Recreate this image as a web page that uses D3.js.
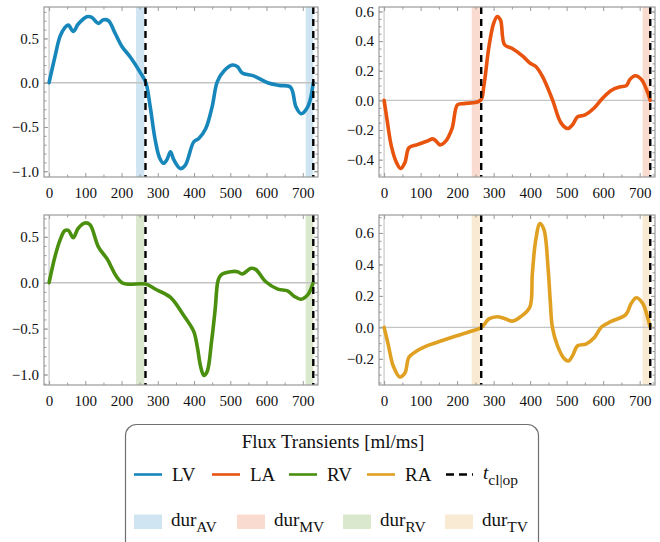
<!DOCTYPE html>
<html>
<head>
<meta charset="utf-8">
<script src="https://cdn.jsdelivr.net/npm/d3@7"></script>
<style>
  body { margin: 0; background: #fff; }
  svg { display: block; }
</style>
</head>
<body>
<div id="box"></div>
<script>
// canvas
const width = 660
const height = 542
const serifFont = '"Liberation Serif"'

// time axis (ms)
const xDomain = [-14, 742]
const xTicks = [0, 100, 200, 300, 400, 500, 600, 700]
const xMinor = [50, 150, 250, 350, 450, 550, 650]

// valve closing / opening times and valve durations
const tClOp = [266, 729]
const durBands = [[240, 263], [708, 729]]

// flux transients [ml/ms]
const timeLV = [0,16,30,43,53,67,80,104,117,136,150,164,182,201,224,251,267,279,293,305,316,325,335,344,362,376,399,413,432,450,464,483,506,520,533,566,603,635,666,681,695,714,729]
const fluxLV = [0,0.29,0.52,0.62,0.65,0.58,0.66,0.745,0.74,0.67,0.71,0.70,0.56,0.41,0.29,0.12,0.0,-0.27,-0.65,-0.85,-0.91,-0.87,-0.78,-0.87,-0.97,-0.93,-0.67,-0.63,-0.52,-0.27,0.01,0.135,0.2,0.18,0.11,0.075,0.0,-0.03,-0.05,-0.27,-0.35,-0.27,0.0]

const timeLA = [0,8,20,34,45,57,68,89,117,135,153,167,186,201,218,264,273,287,300,310,319,330,351,379,400,415,434,461,484,503,516,530,549,576,599,622,645,664,673,688,705,719,729]
const fluxLA = [0,-0.13,-0.31,-0.42,-0.46,-0.42,-0.32,-0.30,-0.276,-0.26,-0.30,-0.28,-0.19,-0.03,-0.022,0,0.094,0.36,0.52,0.566,0.54,0.375,0.35,0.30,0.25,0.23,0.16,0.005,-0.15,-0.19,-0.165,-0.11,-0.10,-0.05,0.016,0.067,0.09,0.1,0.14,0.166,0.14,0.072,0]

const timeRV = [0,16,30,43,53,67,80,99,113,136,159,201,266,298,335,372,399,409,418,427,436,448,458,465,470,478,501,520,533,557,570,598,631,658,677,695,714,729]
const fluxRV = [0,0.28,0.46,0.565,0.57,0.49,0.59,0.65,0.63,0.39,0.265,0.0,-0.015,-0.08,-0.16,-0.36,-0.53,-0.70,-0.91,-1.01,-0.97,-0.65,-0.3,0.0,0.06,0.095,0.12,0.12,0.095,0.157,0.145,0.01,-0.07,-0.09,-0.15,-0.18,-0.13,0]

const timeRA = [0,11,25,43,57,68,89,117,144,199,236,267,287,310,328,351,374,399,406,415,427,438,449,455,461,475,494,505,516,530,553,576,596,622,662,677,691,709,719,729]
const fluxRA = [0,-0.106,-0.245,-0.315,-0.29,-0.19,-0.15,-0.117,-0.096,-0.053,-0.026,0,0.054,0.068,0.058,0.04,0.068,0.128,0.34,0.55,0.66,0.62,0.38,0.17,0,-0.117,-0.20,-0.213,-0.18,-0.117,-0.106,-0.064,0.004,0.038,0.081,0.153,0.188,0.15,0.086,0]

// colours
const lineColors = ['#1787bb', '#e8530e', '#4b8f0e', '#e0a022']
const bandColors = ['#cfe5f1', '#f9dccf', '#dae8cd', '#f8ead3']
const seriesNames = ['LV', 'LA', 'RV', 'RA']
const valveNames = ['AV', 'MV', 'RV', 'TV']

// panels: frame box + y range
const panels = [
  {time: timeLV, flux: fluxLV, x0: 44, x1: 318, y0: 7, y1: 177, yDom: [-1.065, 0.855],
   yTicks: [-1, -0.5, 0, 0.5], yMinor: d3.range(-1.0, 0.85, 0.1)},
  {time: timeLA, flux: fluxLA, x0: 379, x1: 655, y0: 7, y1: 177, yDom: [-0.517, 0.63],
   yTicks: [-0.4, -0.2, 0, 0.2, 0.4, 0.6], yMinor: d3.range(-0.5, 0.63, 0.05)},
  {time: timeRV, flux: fluxRV, x0: 44, x1: 318, y0: 215, y1: 385, yDom: [-1.114, 0.737],
   yTicks: [-1, -0.5, 0, 0.5], yMinor: d3.range(-1.1, 0.73, 0.1)},
  {time: timeRA, flux: fluxRA, x0: 379, x1: 655, y0: 215, y1: 385, yDom: [-0.366, 0.714],
   yTicks: [-0.2, 0, 0.2, 0.4, 0.6], yMinor: d3.range(-0.35, 0.71, 0.05)}
]

const svg = d3.select('#box').append('svg')
  .attr('width', width)
  .attr('height', height)

const frameGray = '#9a9a9a'

// every text gets the serif family on the element itself
function serifText(sel, size) {
  return sel.attr('font-family', serifFont).attr('font-size', size).attr('fill', '#111')
}

panels.forEach((p, i) => {
  const x = d3.scaleLinear().domain(xDomain).range([p.x0, p.x1])
  const y = d3.scaleLinear().domain(p.yDom).range([p.y1, p.y0])
  const g = svg.append('g')

  // valve duration bands
  g.selectAll('rect.band').data(durBands).join('rect')
    .attr('class', 'band')
    .attr('x', d => x(d[0]))
    .attr('width', d => x(d[1]) - x(d[0]))
    .attr('y', p.y0)
    .attr('height', p.y1 - p.y0)
    .attr('fill', bandColors[i])

  // zero lines
  g.append('line')
    .attr('x1', p.x0).attr('x2', p.x1)
    .attr('y1', y(0)).attr('y2', y(0))
    .attr('stroke', '#c4c4c4').attr('stroke-width', 1.4)
  g.append('line')
    .attr('x1', x(0)).attr('x2', x(0))
    .attr('y1', p.y0).attr('y2', p.y1)
    .attr('stroke', '#d0d0d0').attr('stroke-width', 1.4)

  // flux curve
  const pts = p.time.map((t, k) => [t, p.flux[k]])
  const line = d3.line()
    .x(d => x(d[0]))
    .y(d => y(d[1]))
    .curve(d3.curveCatmullRom.alpha(0.5))
  g.append('path')
    .datum(pts)
    .attr('d', line)
    .attr('fill', 'none')
    .attr('stroke', lineColors[i])
    .attr('stroke-width', 3.6)
    .attr('stroke-linejoin', 'round')
    .attr('stroke-linecap', 'round')

  // t_cl|op dashed lines
  g.selectAll('line.tco').data(tClOp).join('line')
    .attr('class', 'tco')
    .attr('x1', d => x(d)).attr('x2', d => x(d))
    .attr('y1', p.y0).attr('y2', p.y1)
    .attr('stroke', '#000')
    .attr('stroke-width', 2.4)
    .attr('stroke-dasharray', '7,5')

  // frame axes (ticks inward)
  const styleAxis = a => {
    a.select('.domain').remove()
    a.selectAll('line').attr('stroke', frameGray)
    a.selectAll('text').call(serifText, 15)
  }
  g.append('g').attr('transform', `translate(0,${p.y1})`)
    .call(d3.axisBottom(x).tickValues(xTicks).tickSize(-4).tickPadding(10).tickFormat(d3.format('d')))
    .call(styleAxis)
  g.append('g').attr('transform', `translate(0,${p.y1})`)
    .call(d3.axisBottom(x).tickValues(xMinor).tickSize(-2.5).tickFormat(''))
    .call(styleAxis)
  g.append('g').attr('transform', `translate(0,${p.y0})`)
    .call(d3.axisTop(x).tickValues(xTicks).tickSize(-4).tickFormat(''))
    .call(styleAxis)
  g.append('g').attr('transform', `translate(0,${p.y0})`)
    .call(d3.axisTop(x).tickValues(xMinor).tickSize(-2.5).tickFormat(''))
    .call(styleAxis)
  g.append('g').attr('transform', `translate(${p.x0},0)`)
    .call(d3.axisLeft(y).tickValues(p.yTicks).tickSize(-4).tickPadding(5).tickFormat(d3.format('.1f')))
    .call(styleAxis)
  g.append('g').attr('transform', `translate(${p.x0},0)`)
    .call(d3.axisLeft(y).tickValues(p.yMinor).tickSize(-2.5).tickFormat(''))
    .call(styleAxis)
  g.append('g').attr('transform', `translate(${p.x1},0)`)
    .call(d3.axisRight(y).tickValues(p.yTicks).tickSize(-4).tickFormat(''))
    .call(styleAxis)
  g.append('g').attr('transform', `translate(${p.x1},0)`)
    .call(d3.axisRight(y).tickValues(p.yMinor).tickSize(-2.5).tickFormat(''))
    .call(styleAxis)

  // frame
  g.append('rect')
    .attr('x', p.x0).attr('y', p.y0)
    .attr('width', p.x1 - p.x0).attr('height', p.y1 - p.y0)
    .attr('fill', 'none').attr('stroke', frameGray).attr('stroke-width', 1.2)
})

// legend
const legend = svg.append('g')
legend.append('rect')
  .attr('x', 125.5).attr('y', 424.5)
  .attr('width', 413).attr('height', 140)
  .attr('rx', 11)
  .attr('fill', '#fff').attr('stroke', '#707070').attr('stroke-width', 1.2)
legend.append('text')
  .attr('x', 333).attr('y', 448)
  .attr('text-anchor', 'middle')
  .call(serifText, 19)
  .text('Flux Transients [ml/ms]')

const lineKeyX = [134, 212, 289, 367]
seriesNames.forEach((name, i) => {
  legend.append('line')
    .attr('x1', lineKeyX[i]).attr('x2', lineKeyX[i] + 28)
    .attr('y1', 474.5).attr('y2', 474.5)
    .attr('stroke', lineColors[i]).attr('stroke-width', 2.6)
  legend.append('text')
    .attr('x', lineKeyX[i] + 38).attr('y', 480.5)
    .call(serifText, 19)
    .text(name)
})
legend.append('line')
  .attr('x1', 446).attr('x2', 473)
  .attr('y1', 474.5).attr('y2', 474.5)
  .attr('stroke', '#000').attr('stroke-width', 2.6)
  .attr('stroke-dasharray', '8,5')
const tco = legend.append('text').attr('x', 483).attr('y', 479).call(serifText, 19)
tco.append('tspan').attr('font-style', 'italic').attr('font-family', serifFont).text('t')
tco.append('tspan').attr('dy', 6).attr('font-size', 15.5).attr('font-family', serifFont).text('cl|op')

const swatchX = [134, 237, 343, 445]
valveNames.forEach((name, i) => {
  legend.append('rect')
    .attr('x', swatchX[i]).attr('y', 514.5)
    .attr('width', 28).attr('height', 14.5)
    .attr('fill', bandColors[i])
  const t = legend.append('text').attr('x', swatchX[i] + 37).attr('y', 526).call(serifText, 19)
  t.append('tspan').attr('font-family', serifFont).text('dur')
  t.append('tspan').attr('dy', 6).attr('font-size', 15.5).attr('font-family', serifFont).text(name)
})
</script>
</body>
</html>
